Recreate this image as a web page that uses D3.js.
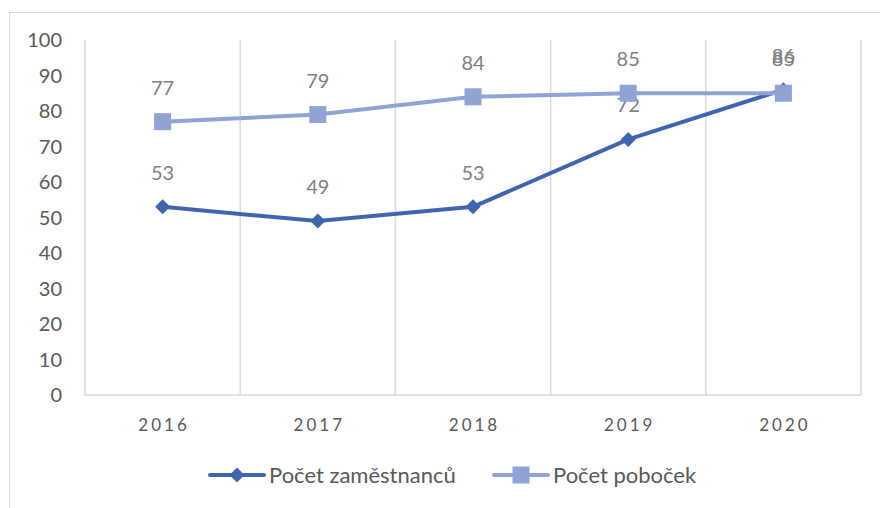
<!DOCTYPE html>
<html>
<head>
<meta charset="utf-8">
<script src="https://cdn.jsdelivr.net/npm/d3@7"></script>
<style>
  html, body { margin: 0; padding: 0; background: #fff; }
  svg { display: block; font-family: Lato, "Open Sans", sans-serif; }
</style>
</head>
<body>
<svg id="chart" width="880" height="508"></svg>
<script>
// Chart data
const years = ["2016", "2017", "2018", "2019", "2020"];
const zamestnanci = [53, 49, 53, 72, 86];
const pobocky = [77, 79, 84, 85, 85];
const yTicks = [0, 10, 20, 30, 40, 50, 60, 70, 80, 90, 100];
const seriesNames = ["Počet zaměstnanců", "Počet poboček"];

const series = [
  { name: seriesNames[0], values: zamestnanci, color: "#3F65AF", marker: "diamond" },
  { name: seriesNames[1], values: pobocky, color: "#8FA3D5", marker: "square" }
];

const svg = d3.select("#chart");
const W = 880, H = 508;
const plot = { left: 85, right: 861, top: 40, bottom: 395 };

// outer chart frame
svg.append("rect")
  .attr("x", 9.5).attr("y", 12.5)
  .attr("width", W + 20).attr("height", H + 20)
  .attr("fill", "#fff").attr("stroke", "#d9d9d9").attr("stroke-width", 1);

const x = d3.scaleBand().domain(years).range([plot.left, plot.right]).paddingInner(0).paddingOuter(0);
const y = d3.scaleLinear().domain([0, 100]).range([plot.bottom, plot.top]);
const cx = d => x(d) + x.bandwidth() / 2;

// vertical gridlines at category boundaries
const bounds = years.map(d => x(d)).concat([plot.right]);
svg.append("g").selectAll("line").data(bounds).join("line")
  .attr("x1", d => d).attr("x2", d => d)
  .attr("y1", plot.top).attr("y2", plot.bottom)
  .attr("stroke", "#d9d9d9").attr("stroke-width", 1.5);

// horizontal baseline
svg.append("line")
  .attr("x1", plot.left).attr("x2", plot.right)
  .attr("y1", plot.bottom).attr("y2", plot.bottom)
  .attr("stroke", "#d9d9d9").attr("stroke-width", 1.5);

// y axis labels
svg.append("g").selectAll("text").data(yTicks).join("text")
  .attr("x", 62).attr("y", d => y(d))
  .attr("dy", "0.35em")
  .attr("text-anchor", "end")
  .attr("font-size", 20)
  .attr("fill", "#595959")
  .text(d => d);

// x axis labels (spaced digits)
svg.append("g").selectAll("text").data(years).join("text")
  .attr("x", d => cx(d) + 1.5).attr("y", 431)
  .attr("text-anchor", "middle")
  .attr("font-size", 17)
  .attr("letter-spacing", "3px")
  .attr("fill", "#595959")
  .text(d => d);

const line = d3.line().x((v, i) => cx(years[i])).y(v => y(v));

function drawMarker(g, type, px, py, color, size) {
  if (type === "square") {
    g.append("rect")
      .attr("x", px - size / 2).attr("y", py - size / 2)
      .attr("width", size).attr("height", size)
      .attr("fill", color);
  } else {
    const s = size / 2;
    g.append("path")
      .attr("d", `M${px},${py - s}L${px + s},${py}L${px},${py + s}L${px - s},${py}Z`)
      .attr("fill", color);
  }
}

series.forEach(s => {
  const g = svg.append("g");
  g.append("path").datum(s.values)
    .attr("d", line)
    .attr("fill", "none")
    .attr("stroke", s.color)
    .attr("stroke-width", 4)
    .attr("stroke-linejoin", "round")
    .attr("stroke-linecap", "round");
  s.values.forEach((v, i) => {
    drawMarker(g, s.marker, cx(years[i]), y(v), s.color, s.marker === "square" ? 17 : 15);
  });
  // value labels above points
  g.selectAll("text.val").data(s.values).join("text")
    .attr("class", "val")
    .attr("x", (v, i) => cx(years[i]))
    .attr("y", v => y(v) - 27)
    .attr("text-anchor", "middle")
    .attr("font-size", 20)
    .attr("fill", "#7f7f7f")
    .text(v => v);
});

// legend
const legend = svg.append("g");
const legendItems = [
  { s: series[0], x0: 210, tx: 269 },
  { s: series[1], x0: 494, tx: 553 }
];
legendItems.forEach(it => {
  const ly = 475;
  legend.append("line")
    .attr("x1", it.x0).attr("x2", it.x0 + 54)
    .attr("y1", ly).attr("y2", ly)
    .attr("stroke", it.s.color).attr("stroke-width", 4)
    .attr("stroke-linecap", "round");
  drawMarker(legend, it.s.marker, it.x0 + 27, ly, it.s.color, it.s.marker === "square" ? 17 : 15);
  legend.append("text")
    .attr("x", it.tx).attr("y", ly)
    .attr("dy", "0.35em")
    .attr("font-size", 22)
    .attr("fill", "#595959")
    .text(it.s.name);
});
</script>
</body>
</html>
